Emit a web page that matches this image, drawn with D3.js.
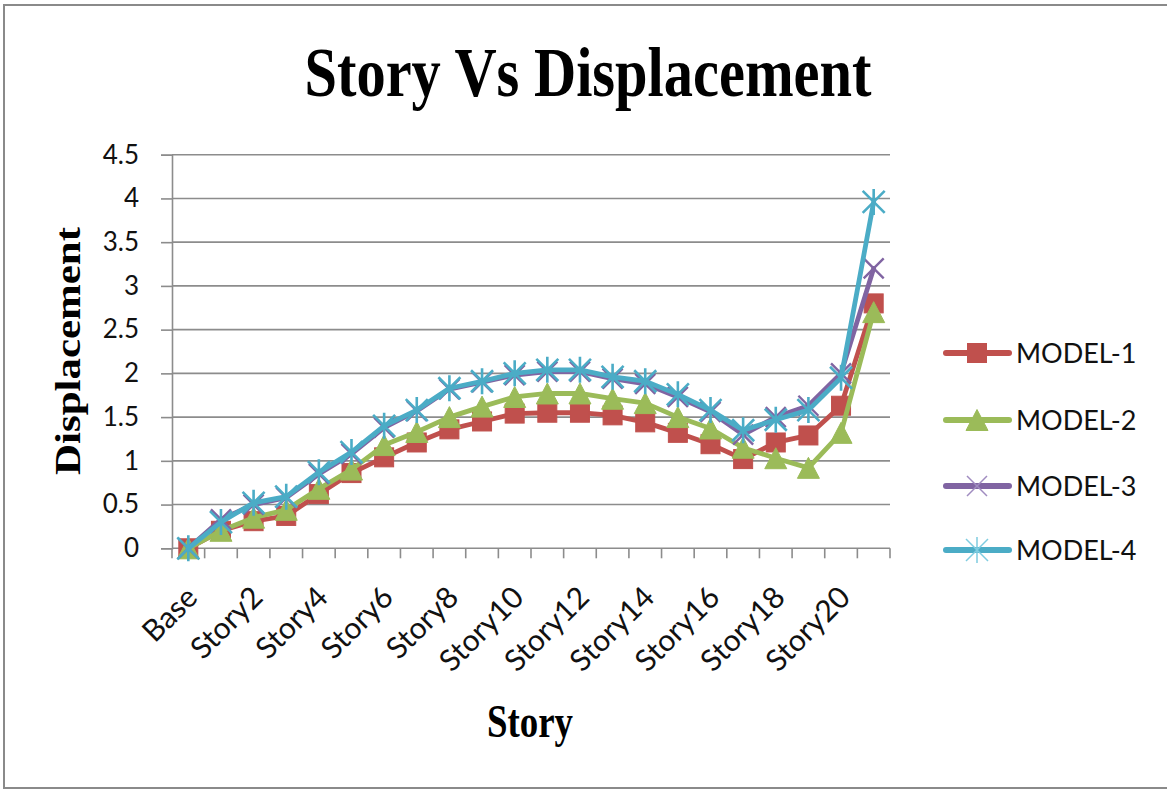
<!DOCTYPE html>
<html>
<head>
<meta charset="utf-8">
<script src="https://cdn.jsdelivr.net/npm/d3@7"></script>
<style>
  html, body { margin: 0; padding: 0; background: #fff; }
  svg { display: block; }
</style>
</head>
<body>
<svg id="chart" width="1167" height="791"></svg>
<script>
const categories = ["Base","Story1","Story2","Story3","Story4","Story5","Story6","Story7","Story8","Story9","Story10",
  "Story11","Story12","Story13","Story14","Story15","Story16","Story17","Story18","Story19","Story20","Story21"];
const model1 = [0, 0.2, 0.31, 0.37, 0.62, 0.86, 1.04, 1.21, 1.36, 1.45, 1.54, 1.55, 1.55, 1.52, 1.44, 1.32, 1.19, 1.02, 1.21, 1.29, 1.63, 2.8];
const model2 = [0, 0.2, 0.35, 0.44, 0.68, 0.9, 1.18, 1.33, 1.5, 1.62, 1.73, 1.77, 1.77, 1.71, 1.66, 1.5, 1.37, 1.15, 1.03, 0.92, 1.32, 2.7];
const model3 = [0, 0.33, 0.5, 0.58, 0.85, 1.08, 1.38, 1.57, 1.82, 1.9, 1.98, 2.02, 2.02, 1.94, 1.88, 1.73, 1.56, 1.3, 1.5, 1.63, 2.0, 3.2];
const model4 = [0, 0.3, 0.52, 0.59, 0.87, 1.1, 1.4, 1.58, 1.83, 1.91, 2.0, 2.04, 2.04, 1.96, 1.91, 1.76, 1.58, 1.35, 1.47, 1.58, 1.95, 3.96];
const seriesNames = ["MODEL-1","MODEL-2","MODEL-3","MODEL-4"];
const seriesColors = ["#C0504D","#9BBB59","#8064A2","#4BACC6"];
const markerTypes = ["square","triangle","x","star"];
const yTicks = [0,0.5,1,1.5,2,2.5,3,3.5,4,4.5];
const xLabelTicks = categories.filter((c,i) => i % 2 === 0 && i <= 20);
const titleText = "Story Vs Displacement";
const xTitle = "Story";
const yTitle = "Displacement";

const seriesData = [model1, model2, model3, model4];

const svg = d3.select("#chart");
const gridColor = "#8C8C8C";

// frame
svg.append("rect").attr("x",4).attr("y",5).attr("width",1200).attr("height",783)
  .attr("fill","none").attr("stroke","#8a8a8a").attr("stroke-width",2);

const pLeft = 172, pRight = 890, pTop = 154.7, pBottom = 548.3;
const x = d3.scaleBand().domain(categories).range([pLeft, pRight]).paddingInner(0).paddingOuter(0);
const cx = c => x(c) + x.bandwidth()/2;
const y = d3.scaleLinear().domain([0,4.5]).range([pBottom, pTop]);

// gridlines
svg.append("g").selectAll("line").data(yTicks.filter(d => d>0)).join("line")
  .attr("x1", pLeft).attr("x2", pRight).attr("y1", d=>y(d)).attr("y2", d=>y(d))
  .attr("stroke", gridColor).attr("stroke-width", 1.6);

// y axis
const yAxis = svg.append("g").attr("transform", `translate(${pLeft},0)`)
  .call(d3.axisLeft(y).tickValues(yTicks).tickSize(11).tickPadding(22).tickFormat(d => String(d)));
yAxis.select(".domain").attr("stroke", gridColor).attr("stroke-width", 1.6);
yAxis.selectAll(".tick line").attr("stroke", gridColor).attr("stroke-width", 1.6);
yAxis.selectAll(".tick text").attr("font-family","Lato, 'Open Sans', sans-serif").attr("font-size", 26).attr("fill","#111");

// x axis
const xAxis = svg.append("g").attr("transform", `translate(0,${pBottom})`)
  .call(d3.axisBottom(x).tickValues(xLabelTicks).tickSize(0).tickPadding(0));
xAxis.select(".domain").attr("d", `M${pLeft},0H${pRight}`).attr("stroke", gridColor).attr("stroke-width", 1.6);
xAxis.selectAll(".tick text")
  .attr("font-family","Lato, 'Open Sans', sans-serif").attr("font-size", 30).attr("fill","#111")
  .attr("text-anchor","end").attr("dy", 0).attr("y", 0)
  .attr("transform", "translate(11,51) rotate(-45)");
// boundary tick marks
svg.append("g").selectAll("line").data(categories.concat(["__end"])).join("line")
  .attr("x1", d => d === "__end" ? pRight : x(d)).attr("x2", d => d === "__end" ? pRight : x(d))
  .attr("y1", pBottom).attr("y2", pBottom + 10)
  .attr("stroke", gridColor).attr("stroke-width", 1.6);

// series
const line = d3.line().x((d,i) => cx(categories[i])).y(d => y(d));
function drawMarker(g, type, color, px, py, legend) {
  if (type === "square") {
    const s = 19;
    g.append("rect").attr("x", px - s/2).attr("y", py - s/2).attr("width", s).attr("height", s)
      .attr("fill", color).attr("stroke", color).attr("stroke-width", 1);
  } else if (type === "triangle") {
    const w = 22, h = 21;
    g.append("path").attr("d", `M${px},${py - h/2}L${px + w/2},${py + h/2}L${px - w/2},${py + h/2}Z`)
      .attr("fill", color).attr("stroke", color).attr("stroke-width", 1);
  } else if (type === "x") {
    const r = 10;
    g.append("path").attr("d", `M${px-r},${py-r}L${px+r},${py+r}M${px-r},${py+r}L${px+r},${py-r}`)
      .attr("stroke", legend ? "#A08CC0" : color).attr("stroke-width", legend ? 1.5 : 2.4).attr("fill","none");
  } else if (type === "star") {
    const r = 11;
    g.append("path").attr("d", `M${px-r},${py-r}L${px+r},${py+r}M${px-r},${py+r}L${px+r},${py-r}M${px},${py-r-2}L${px},${py+r+2}`)
      .attr("stroke", legend ? "#7FCCE0" : color).attr("stroke-width", legend ? 1.5 : 2.6).attr("fill","none");
  }
}

seriesData.forEach((vals, si) => {
  const g = svg.append("g");
  g.append("path").datum(vals).attr("d", line).attr("fill","none")
    .attr("stroke", seriesColors[si]).attr("stroke-width", 4.8).attr("stroke-linejoin","round").attr("stroke-linecap","round");
  vals.forEach((v, i) => drawMarker(g, markerTypes[si], seriesColors[si], cx(categories[i]), y(v), false));
});

// legend
const legendY = [353, 420, 486, 550];
seriesNames.forEach((name, si) => {
  const g = svg.append("g");
  const ly = legendY[si];
  g.append("line").attr("x1", 946).attr("x2", 1009).attr("y1", ly).attr("y2", ly)
    .attr("stroke", seriesColors[si]).attr("stroke-width", 6).attr("stroke-linecap","round");
  drawMarker(g, markerTypes[si], seriesColors[si], 977, ly, true);
  g.append("text").attr("x", 1016).attr("y", ly).attr("dy","0.36em")
    .attr("font-family","Lato, 'Open Sans', sans-serif").attr("font-size", 27).attr("fill","#111").text(name);
});

// titles
svg.append("text").attr("x", 588).attr("y", 96).attr("text-anchor","middle")
  .attr("font-family","'Liberation Serif', 'Times New Roman', serif").attr("font-weight","bold")
  .attr("font-size", 70).attr("textLength", 567).attr("lengthAdjust","spacingAndGlyphs").attr("fill","#000")
  .text(titleText);
svg.append("text").attr("x", 530).attr("y", 737).attr("text-anchor","middle")
  .attr("font-family","'Liberation Serif', 'Times New Roman', serif").attr("font-weight","bold")
  .attr("font-size", 46).attr("textLength", 86).attr("lengthAdjust","spacingAndGlyphs").attr("fill","#000")
  .text(xTitle);
svg.append("text").attr("transform", "translate(80,351) rotate(-90)").attr("text-anchor","middle")
  .attr("font-family","'Liberation Serif', 'Times New Roman', serif").attr("font-weight","bold")
  .attr("font-size", 36).attr("textLength", 248).attr("lengthAdjust","spacingAndGlyphs").attr("fill","#000")
  .text(yTitle);
</script>
</body>
</html>
